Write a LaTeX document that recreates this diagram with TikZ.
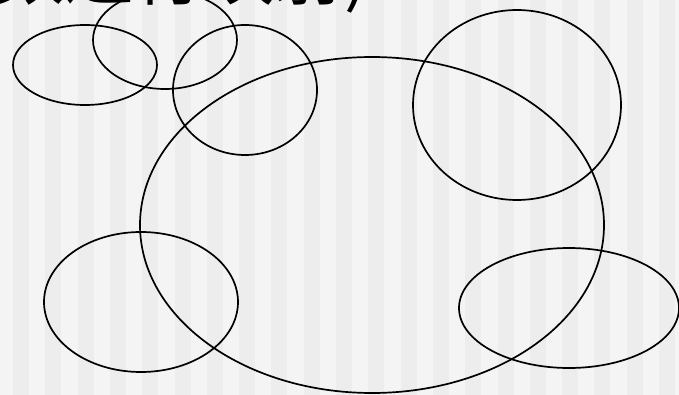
\documentclass[tikz,border=0pt]{standalone}
\usepackage{fontspec}
\newfontfamily\cjk{Noto Sans CJK SC}
\usepackage{tikz}
\definecolor{stripelight}{HTML}{F4F4F4}
\definecolor{stripedark}{HTML}{EDEDED}
\tikzset{
  set/.style   = {draw=black, line width=1.7pt},
  title/.style = {font=\cjk\fontsize{70}{70}\selectfont, inner sep=0pt,
                  anchor=base west},
}

\begin{document}
\begin{tikzpicture}[x=1pt, y=-1pt]
  \useasboundingbox (0,0) rectangle (679,395);
  \clip (0,0) rectangle (679,395);
  % background stripes
  \fill[stripelight] (0,0) rectangle (679,395);
  \foreach \i in {0,...,20}
    \fill[stripedark] ({13+32.3*\i},0) rectangle ++(16,395);

  \node[title] (title) at (-6,0) {数进行映射)};

  % sets
  \draw[set] (85,65)   ellipse [x radius=72pt,  y radius=40pt];
  \draw[set] (165,40)  ellipse [x radius=72pt,  y radius=49pt];
  \draw[set] (245,90)  ellipse [x radius=72pt,  y radius=65pt];
  \draw[set] (372,225) ellipse [x radius=232pt, y radius=168pt];
  \draw[set] (517,105) ellipse [x radius=104pt, y radius=95pt];
  \draw[set] (141,302) ellipse [x radius=97pt,  y radius=70pt];
  \draw[set] (569,308) ellipse [x radius=110pt, y radius=60pt];
\end{tikzpicture}
\end{document}
